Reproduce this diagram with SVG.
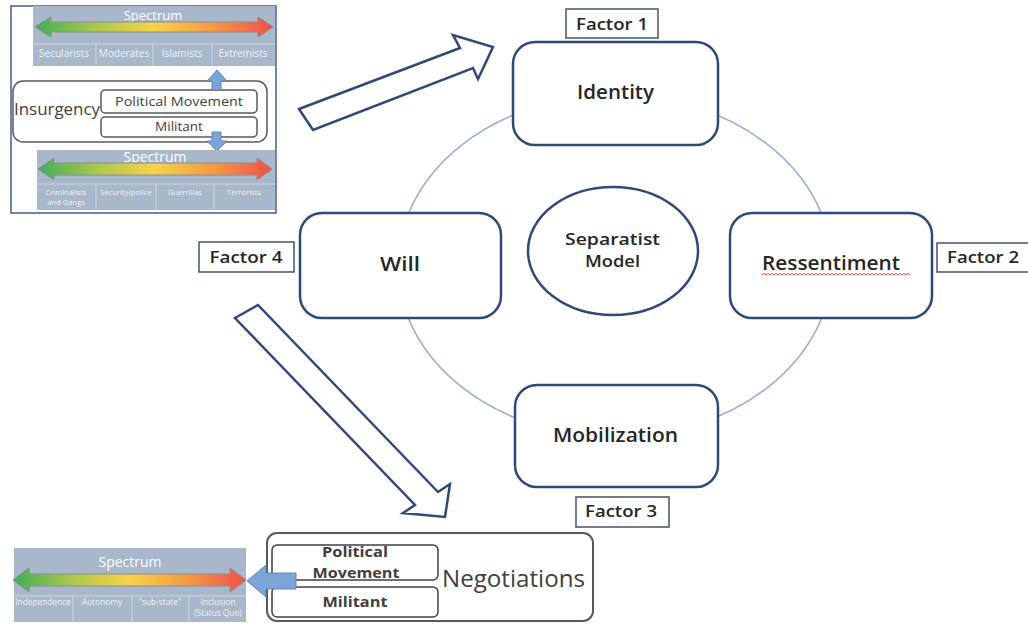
<svg xmlns="http://www.w3.org/2000/svg" width="1028" height="624" viewBox="0 0 1028 624">
<defs>
<linearGradient id="spec" x1="0" y1="0" x2="1" y2="0">
<stop offset="0" stop-color="#3fae5a"/>
<stop offset="0.25" stop-color="#a9c84c"/>
<stop offset="0.5" stop-color="#f7d34a"/>
<stop offset="0.75" stop-color="#f49a44"/>
<stop offset="1" stop-color="#ef5049"/>
</linearGradient>
<style>
.t{font-family:"Open Sans","Liberation Sans",sans-serif;fill:#262626;font-weight:600}
.node{fill:#fff;stroke:#2e4a7a;stroke-width:2.5}
.fac{fill:#fff;stroke:#44546a;stroke-width:1.5}
.panel{fill:#a9b7cb}
.div{stroke:#cdd6e2;stroke-width:1}
.wt{font-family:"Open Sans","Liberation Sans",sans-serif;fill:#ffffff}
.lt{font-family:"Open Sans","Liberation Sans",sans-serif;fill:#eef2f7}
.sarr{fill:url(#spec);stroke:#8c8c8c;stroke-width:1}
.barr{fill:#7ca4d4;stroke:#5e86bd;stroke-width:1}
.big{fill:#fff;stroke:#2e4a7a;stroke-width:2.5;stroke-linejoin:miter}
.gbox{fill:#fff;stroke:#595959;stroke-width:1.5}
.gt{font-family:"Open Sans","Liberation Sans",sans-serif;fill:#404040}
</style>
</defs>
<rect width="1028" height="624" fill="#fff"/>

<g id="connectors">
<ellipse cx="615" cy="266" rx="217" ry="171" fill="none" stroke="#9ab0d2" stroke-width="1.6"/>
<polygon class="big" points="299,109 460,48 453,35 493,47 478,79 473,68 313,130"/>
<polygon class="big" points="235,318 258,305 438,492 450,484 445,517 403,513 415,505"/>
</g>

<g id="insurgency-panel">
<rect x="11" y="6" width="265" height="207" fill="#fff" stroke="#3f5f8f" stroke-width="1.5"/>
<rect class="panel" x="33" y="6" width="242" height="60"/>
<line class="div" x1="33" y1="44" x2="275" y2="44"/>
<line class="div" x1="96" y1="44" x2="96" y2="66"/>
<line class="div" x1="153" y1="44" x2="153" y2="66"/>
<line class="div" x1="212" y1="44" x2="212" y2="66"/>
<text class="wt" x="153" y="20" font-size="13" text-anchor="middle">Spectrum</text>
<polygon class="sarr" points="35,27 51,17 51,22 258,22 258,17 273,27 258,37 258,32 51,32 51,37"/>
<text class="lt" x="64" y="57" font-size="10" text-anchor="middle">Secularists</text>
<text class="lt" x="124" y="57" font-size="10" text-anchor="middle">Moderates</text>
<text class="lt" x="182" y="57" font-size="10" text-anchor="middle">Islamists</text>
<text class="lt" x="243" y="57" font-size="10" text-anchor="middle">Extremists</text>

<rect class="gbox" x="13" y="81" width="254" height="61" rx="10"/>
<text class="gt" x="14" y="115" font-size="16" textLength="86" lengthAdjust="spacingAndGlyphs">Insurgency</text>
<rect class="gbox" x="101" y="90" width="156" height="23" rx="4"/>
<text class="gt" x="179" y="106" font-size="13.5" text-anchor="middle" textLength="128" lengthAdjust="spacingAndGlyphs">Political  Movement</text>
<rect class="gbox" x="101" y="117" width="156" height="20" rx="4"/>
<text class="gt" x="179" y="131" font-size="13.5" text-anchor="middle">Militant</text>
<polygon class="barr" points="217,70 227,81 221,81 221,90 212,90 212,81 207,81"/>
<polygon class="barr" points="212,132 221,132 221,141 227,141 217,151 207,141 212,141"/>

<rect class="panel" x="37" y="150" width="238" height="60"/>
<line class="div" x1="37" y1="184" x2="275" y2="184"/>
<line class="div" x1="96" y1="184" x2="96" y2="210"/>
<line class="div" x1="156" y1="184" x2="156" y2="210"/>
<line class="div" x1="214" y1="184" x2="214" y2="210"/>
<text class="wt" x="155" y="162" font-size="14" text-anchor="middle">Spectrum</text>
<polygon class="sarr" points="38,169 54,158 54,163 257,163 257,158 272,169 257,180 257,175 54,175 54,180"/>
<text class="lt" x="66" y="195" font-size="7.5" text-anchor="middle">Criminalists</text>
<text class="lt" x="66" y="205" font-size="7.5" text-anchor="middle">and Gangs</text>
<text class="lt" x="126" y="195" font-size="7.5" text-anchor="middle">Security/police</text>
<text class="lt" x="185" y="195" font-size="7.5" text-anchor="middle">Guerrillas</text>
<text class="lt" x="244" y="195" font-size="7.5" text-anchor="middle">Terrorists</text>
</g>

<g id="negotiation-spectrum">
<rect class="panel" x="14" y="548" width="232" height="74"/>
<line class="div" x1="14" y1="596" x2="246" y2="596"/>
<line class="div" x1="73" y1="596" x2="73" y2="622"/>
<line class="div" x1="132" y1="596" x2="132" y2="622"/>
<line class="div" x1="189" y1="596" x2="189" y2="622"/>
<text class="wt" x="130" y="567" font-size="14" text-anchor="middle">Spectrum</text>
<polygon class="sarr" points="13,580 29,568 29,574 230,574 230,568 246,580 230,592 230,586 29,586 29,592"/>
<text class="lt" x="43" y="605" font-size="8.3" text-anchor="middle">Independence</text>
<text class="lt" x="102" y="605" font-size="8.3" text-anchor="middle">Autonomy</text>
<text class="lt" x="160" y="605" font-size="8.3" text-anchor="middle">"sub-state"</text>
<text class="lt" x="218" y="605" font-size="8.3" text-anchor="middle">Inclusion</text>
<text class="lt" x="218" y="616" font-size="8.3" text-anchor="middle">(Status Quo)</text>
</g>

<g id="negotiations">
<rect x="267" y="533" width="326" height="88" rx="10" fill="#fff" stroke="#595959" stroke-width="2"/>
<rect x="272" y="545" width="166" height="35" rx="5" fill="#fff" stroke="#404040" stroke-width="1.5"/>
<rect x="272" y="587" width="166" height="30" rx="5" fill="#fff" stroke="#404040" stroke-width="1.5"/>
<text class="gt" x="355" y="557" font-size="15" font-weight="bold" text-anchor="middle" textLength="66" lengthAdjust="spacingAndGlyphs">Political</text>
<text class="gt" x="356" y="578" font-size="15" font-weight="bold" text-anchor="middle" textLength="87" lengthAdjust="spacingAndGlyphs">Movement</text>
<text class="gt" x="355" y="607" font-size="15" font-weight="bold" text-anchor="middle" textLength="65" lengthAdjust="spacingAndGlyphs">Militant</text>
<text class="gt" x="442" y="587" font-size="24" textLength="143" lengthAdjust="spacingAndGlyphs">Negotiations</text>
<polygon class="barr" points="247,581 266,565 266,573 296,573 296,589 266,589 266,597"/>
</g>

<g id="identity">
<rect class="node" x="513" y="42" width="205" height="103" rx="22"/>
<text class="t" x="615.5" y="99" font-size="19" text-anchor="middle" textLength="77" lengthAdjust="spacingAndGlyphs">Identity</text>
</g>
<g id="factor1">
<rect class="fac" x="566" y="9" width="92" height="29"/>
<text class="t" x="612" y="30" font-size="17" text-anchor="middle" textLength="72" lengthAdjust="spacingAndGlyphs">Factor 1</text>
</g>

<g id="ressentiment">
<rect class="node" x="730" y="213" width="202" height="105" rx="22"/>
<text class="t" x="831" y="270" font-size="19" text-anchor="middle" textLength="138" lengthAdjust="spacingAndGlyphs">Ressentiment</text>
<path d="M762 275 l2 -1.6 l2 1.6 l2 -1.6 l2 1.6 l2 -1.6 l2 1.6 l2 -1.6 l2 1.6 l2 -1.6 l2 1.6 l2 -1.6 l2 1.6 l2 -1.6 l2 1.6 l2 -1.6 l2 1.6 l2 -1.6 l2 1.6 l2 -1.6 l2 1.6 l2 -1.6 l2 1.6 l2 -1.6 l2 1.6 l2 -1.6 l2 1.6 l2 -1.6 l2 1.6 l2 -1.6 l2 1.6 l2 -1.6 l2 1.6 l2 -1.6 l2 1.6 l2 -1.6 l2 1.6 l2 -1.6 l2 1.6 l2 -1.6 l2 1.6 l2 -1.6 l2 1.6 l2 -1.6 l2 1.6 l2 -1.6 l2 1.6 l2 -1.6 l2 1.6 l2 -1.6 l2 1.6 l2 -1.6 l2 1.6 l2 -1.6 l2 1.6 l2 -1.6 l2 1.6 l2 -1.6 l2 1.6 l2 -1.6 l2 1.6 l2 -1.6 l2 1.6 l2 -1.6 l2 1.6 l2 -1.6 l2 1.6 l2 -1.6 l2 1.6 l2 -1.6 l2 1.6 l2 -1.6 l2 1.6 l2 -1.6 l2 1.6" fill="none" stroke="#e0302a" stroke-width="0.9"/>
</g>
<g id="factor2">
<rect class="fac" x="937" y="243" width="92" height="29"/>
<text class="t" x="947" y="263" font-size="17" textLength="72" lengthAdjust="spacingAndGlyphs">Factor 2</text>
</g>

<g id="will">
<rect class="node" x="300" y="213" width="201" height="105" rx="22"/>
<text class="t" x="400" y="271" font-size="19" text-anchor="middle" textLength="40" lengthAdjust="spacingAndGlyphs">Will</text>
</g>
<g id="factor4">
<rect class="fac" x="199" y="242" width="95" height="30"/>
<text class="t" x="246" y="263" font-size="17" text-anchor="middle" textLength="73" lengthAdjust="spacingAndGlyphs">Factor 4</text>
</g>

<g id="mobilization">
<rect class="node" x="515" y="385" width="203" height="102" rx="22"/>
<text class="t" x="615.5" y="442" font-size="19" text-anchor="middle" textLength="125" lengthAdjust="spacingAndGlyphs">Mobilization</text>
</g>
<g id="factor3">
<rect class="fac" x="576" y="497" width="93" height="30"/>
<text class="t" x="621" y="517" font-size="17" text-anchor="middle" textLength="72" lengthAdjust="spacingAndGlyphs">Factor 3</text>
</g>

<g id="separatist-model">
<ellipse cx="613" cy="251" rx="85" ry="64" fill="#fff" stroke="#2e4a7a" stroke-width="2.5"/>
<text class="t" x="612.5" y="245" font-size="16" text-anchor="middle" textLength="95" lengthAdjust="spacingAndGlyphs">Separatist</text>
<text class="t" x="612.5" y="267" font-size="16" text-anchor="middle" textLength="55" lengthAdjust="spacingAndGlyphs">Model</text>
</g>
</svg>
